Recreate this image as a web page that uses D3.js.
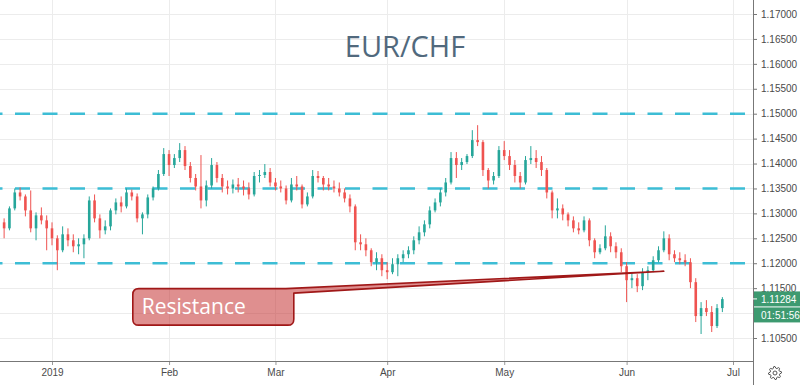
<!DOCTYPE html>
<html><head><meta charset="utf-8">
<script src="https://cdn.jsdelivr.net/npm/d3@7/dist/d3.min.js"></script>
<style>body{margin:0;background:#fff;} svg{display:block;}</style>
</head><body><svg id="c" width="800" height="385"></svg>
<script>
// ---------- DATA ----------
const firstDay = "2018-12-18";
const holidays = ["2018-12-25", "2019-01-01"];
const open = [
1.1282,1.1270,1.1310,1.1342,1.1334,1.1306,1.1270,1.1296,1.1286,
1.1270,1.1250,1.1226,1.1258,1.1246,1.1234,1.1238,1.1250,1.1326,1.1290,1.1266,1.1274,1.1306,1.1322,1.1314,1.1342,1.1334,1.1290,1.1298,1.1332,1.1350,1.1379,
1.1419,1.1397,1.1411,1.1427,1.1395,1.1371,1.1354,1.1326,1.1356,1.1397,1.1371,1.1354,1.1350,1.1358,1.1354,1.1350,1.1338,1.1375,1.1377,1.1383,
1.1362,1.1354,1.1350,1.1326,1.1358,1.1354,1.1318,1.1334,1.1375,1.1371,1.1358,1.1354,1.1350,1.1342,1.1330,1.1314,1.1242,1.1238,1.1226,1.1202,1.1210,
1.1186,1.1182,1.1198,1.1210,1.1218,1.1226,1.1246,1.1262,1.1278,1.1306,1.1322,1.1342,1.1362,1.1411,1.1397,1.1403,1.1415,1.1447,1.1443,1.1387,1.1366,1.1375,
1.1427,1.1415,1.1397,1.1375,1.1362,1.1407,1.1411,1.1403,1.1387,1.1342,1.1306,1.1310,1.1298,1.1286,1.1270,1.1266,1.1286,1.1246,1.1222,1.1230,1.1254,1.1234,1.1222,
1.1194,1.1166,1.1170,1.1154,1.1182,1.1186,1.1206,1.1226,1.1250,1.1218,1.1210,1.1206,1.1202,1.1162,1.1094,1.1110,1.1102,1.1074,1.1110
];
const high = [
1.1290,1.1314,1.1350,1.1352,1.1338,1.1346,1.1302,1.1312,1.1296,
1.1282,1.1256,1.1274,1.1270,1.1258,1.1250,1.1258,1.1334,1.1338,1.1298,1.1286,1.1310,1.1330,1.1334,1.1350,1.1348,1.1340,1.1302,1.1338,1.1354,1.1387,1.1431,
1.1427,1.1419,1.1441,1.1435,1.1403,1.1379,1.1417,1.1366,1.1411,1.1403,1.1379,1.1366,1.1368,1.1371,1.1366,1.1362,1.1383,1.1387,1.1399,1.1391,
1.1371,1.1366,1.1356,1.1371,1.1375,1.1358,1.1342,1.1387,1.1385,1.1375,1.1371,1.1366,1.1362,1.1350,1.1338,1.1318,1.1258,1.1250,1.1230,1.1222,1.1218,
1.1202,1.1210,1.1218,1.1226,1.1234,1.1254,1.1274,1.1286,1.1314,1.1330,1.1350,1.1371,1.1423,1.1423,1.1411,1.1419,1.1467,1.1477,1.1447,1.1391,1.1383,1.1435,
1.1445,1.1427,1.1407,1.1383,1.1415,1.1435,1.1427,1.1415,1.1391,1.1346,1.1330,1.1318,1.1302,1.1294,1.1282,1.1294,1.1290,1.1250,1.1238,1.1276,1.1262,1.1242,1.1230,
1.1202,1.1182,1.1178,1.1190,1.1194,1.1214,1.1234,1.1264,1.1258,1.1226,1.1222,1.1218,1.1210,1.1170,1.1122,1.1126,1.1114,1.1118,1.1132
];
const low = [
1.1250,1.1266,1.1306,1.1326,1.1294,1.1262,1.1246,1.1278,1.1226,
1.1236,1.1186,1.1222,1.1234,1.1222,1.1218,1.1210,1.1246,1.1282,1.1250,1.1258,1.1266,1.1298,1.1302,1.1310,1.1326,1.1282,1.1258,1.1290,1.1326,1.1346,1.1375,
1.1375,1.1391,1.1403,1.1387,1.1362,1.1346,1.1310,1.1314,1.1350,1.1362,1.1342,1.1338,1.1340,1.1342,1.1336,1.1328,1.1334,1.1362,1.1371,1.1354,
1.1346,1.1342,1.1318,1.1322,1.1346,1.1310,1.1314,1.1330,1.1362,1.1346,1.1346,1.1342,1.1334,1.1322,1.1302,1.1226,1.1226,1.1214,1.1194,1.1186,1.1174,
1.1168,1.1178,1.1174,1.1202,1.1210,1.1218,1.1238,1.1254,1.1270,1.1302,1.1314,1.1334,1.1358,1.1371,1.1387,1.1399,1.1411,1.1435,1.1375,1.1350,1.1358,1.1371,
1.1407,1.1387,1.1362,1.1350,1.1358,1.1399,1.1391,1.1375,1.1330,1.1290,1.1290,1.1286,1.1274,1.1262,1.1258,1.1262,1.1234,1.1210,1.1218,1.1226,1.1222,1.1210,1.1182,
1.1122,1.1150,1.1142,1.1146,1.1166,1.1182,1.1202,1.1222,1.1206,1.1202,1.1198,1.1194,1.1150,1.1082,1.1058,1.1094,1.1062,1.1070,1.1102
];
const close = [
1.1270,1.1310,1.1342,1.1334,1.1306,1.1270,1.1296,1.1286,1.1270,
1.1250,1.1226,1.1258,1.1246,1.1234,1.1238,1.1250,1.1326,1.1290,1.1266,1.1274,1.1306,1.1322,1.1314,1.1342,1.1334,1.1290,1.1298,1.1332,1.1350,1.1379,1.1419,
1.1397,1.1411,1.1427,1.1395,1.1371,1.1354,1.1326,1.1356,1.1397,1.1371,1.1354,1.1350,1.1358,1.1354,1.1350,1.1338,1.1375,1.1377,1.1383,1.1362,
1.1354,1.1350,1.1326,1.1358,1.1354,1.1318,1.1334,1.1375,1.1371,1.1358,1.1354,1.1350,1.1342,1.1330,1.1314,1.1242,1.1238,1.1226,1.1202,1.1210,1.1186,
1.1182,1.1198,1.1210,1.1218,1.1226,1.1246,1.1262,1.1278,1.1306,1.1322,1.1342,1.1362,1.1411,1.1397,1.1403,1.1415,1.1447,1.1443,1.1387,1.1366,1.1375,1.1427,
1.1415,1.1397,1.1375,1.1362,1.1407,1.1411,1.1403,1.1387,1.1342,1.1306,1.1310,1.1298,1.1286,1.1270,1.1266,1.1286,1.1246,1.1222,1.1230,1.1254,1.1234,1.1222,1.1194,
1.1166,1.1170,1.1154,1.1182,1.1186,1.1206,1.1226,1.1250,1.1218,1.1210,1.1206,1.1202,1.1162,1.1094,1.1110,1.1102,1.1074,1.1110,1.1128
];
const priceTicks = [1.105,1.110,1.115,1.120,1.125,1.130,1.135,1.140,1.145,1.150,1.155,1.160,1.165,1.170];
const levelLines = [1.120, 1.135, 1.150];
const monthLabels = ["2019","Feb","Mar","Apr","May","Jun","Jul"];
const monthStarts = ["2019-01-02","2019-02-01","2019-03-01","2019-04-01","2019-05-01","2019-06-03","2019-07-01"];
const title = "EUR/CHF";
const lastPrice = 1.11284;
const countdown = "01:51:56";
const calloutText = "Resistance";
const calloutBoxAt = {date: "2019-01-23", price: 1.1149};
const calloutTarget = {date: "2019-06-12", price: 1.1184};

// ---------- CALENDAR (trading days) ----------
const fmt = d3.utcFormat("%Y-%m-%d");
const calendar = [];
for (let d = new Date(firstDay + "T00:00:00Z"); calendar.length < 150; d = new Date(d.getTime() + 86400000)) {
  const wd = d.getUTCDay();
  const s = fmt(d);
  if (wd === 0 || wd === 6 || holidays.includes(s)) continue;
  calendar.push(s);
}
const idx = s => calendar.indexOf(s);
const bars = close.map((c, i) => ({i, date: calendar[i], o: open[i], h: high[i], l: low[i], c}));

// ---------- LAYOUT ----------
const W = 800, H = 385, plotR = 753, plotB = 361;
const svg = d3.select("#c");
const x = d3.scaleLinear().domain([idx("2019-01-02"), idx("2019-07-01")]).range([52, 733]);
const y = d3.scaleLinear().domain([1.105, 1.17]).range([338, 14]);

svg.append("rect").attr("width", W).attr("height", H).attr("fill", "#fff");
svg.append("defs").append("clipPath").attr("id", "plot")
  .append("rect").attr("x", 0).attr("y", 0).attr("width", plotR).attr("height", plotB);

const grid = svg.append("g").attr("clip-path", "url(#plot)");
grid.selectAll(".hg").data(priceTicks).join("line")
  .attr("x1", 0).attr("x2", plotR).attr("y1", d => Math.round(y(d)) + 0.5).attr("y2", d => Math.round(y(d)) + 0.5)
  .attr("stroke", "#ececec").attr("stroke-width", 1);
grid.selectAll(".vg").data(monthStarts).join("line")
  .attr("x1", d => Math.round(x(idx(d))) + 0.5).attr("x2", d => Math.round(x(idx(d))) + 0.5)
  .attr("y1", 0).attr("y2", plotB)
  .attr("stroke", "#ececec").attr("stroke-width", 1);

// title
svg.append("text").attr("x", 405).attr("y", 57).attr("text-anchor", "middle")
  .attr("font-family", "Open Sans, sans-serif").attr("font-size", 29).attr("fill", "#51697d").text(title);

// level lines
grid.selectAll(".lvl").data(levelLines).join("line")
  .attr("x1", 0).attr("x2", plotR).attr("y1", d => y(d)).attr("y2", d => y(d))
  .attr("stroke", "#3dbdd5").attr("stroke-width", 2.5)
  .attr("stroke-dasharray", "15,12.5").attr("stroke-dashoffset", 12.5);

// candles
const up = "#26a69a", dn = "#ef5350";
const cg = svg.append("g").attr("clip-path", "url(#plot)");
const cs = cg.selectAll("g.c").data(bars).join("g");
cs.append("line")
  .attr("x1", d => x(d.i)).attr("x2", d => x(d.i))
  .attr("y1", d => y(d.h)).attr("y2", d => y(d.l))
  .attr("stroke", d => d.c >= d.o ? up : dn).attr("stroke-width", 1);
cs.append("rect")
  .attr("x", d => x(d.i) - 1.3).attr("width", 2.6)
  .attr("y", d => y(Math.max(d.o, d.c)))
  .attr("height", d => Math.max(1, Math.abs(y(d.o) - y(d.c))))
  .attr("fill", d => d.c >= d.o ? up : dn);

// callout
{
  const bx = x(idx(calloutBoxAt.date)) + 1, by = y(calloutBoxAt.price);
  const bw = 161, bh = 36.5, r = 6;
  const tx = x(idx(calloutTarget.date)), ty = y(calloutTarget.price);
  const p = d3.path();
  p.moveTo(bx + r, by);
  p.lineTo(bx + bw - 8, by);
  p.lineTo(tx, ty);
  p.lineTo(bx + bw, by + 4.5);
  p.lineTo(bx + bw, by + bh - r);
  p.quadraticCurveTo(bx + bw, by + bh, bx + bw - r, by + bh);
  p.lineTo(bx + r, by + bh);
  p.quadraticCurveTo(bx, by + bh, bx, by + bh - r);
  p.lineTo(bx, by + r);
  p.quadraticCurveTo(bx, by, bx + r, by);
  p.closePath();
  svg.append("path").attr("d", p.toString())
    .attr("fill", "rgba(192,32,32,0.5)").attr("stroke", "#a01818").attr("stroke-width", 1.6)
    .attr("stroke-linejoin", "round");
  svg.append("text").attr("x", bx + 9).attr("y", by + 25)
    .attr("font-family", "Open Sans, sans-serif").attr("font-size", 21).attr("fill", "#fff").text(calloutText);
}

// axes
const ly = y(lastPrice);
const yAxis = d3.axisRight(y).tickValues(priceTicks).tickFormat(d3.format(".5f")).tickSize(4).tickPadding(4);
const ya = svg.append("g").attr("transform", `translate(${plotR},0)`).call(yAxis);
ya.select(".domain").remove();
ya.selectAll("line").attr("stroke", "#777");
ya.selectAll("text").attr("font-family", "Liberation Sans, Arial, sans-serif").attr("font-size", 10).attr("fill", "#4a4a4a");
// labels hidden behind the last-price tag
ya.selectAll(".tick").filter(d => y(d) > ly + 4 && y(d) < ly + 26).select("text").remove();

const xAxis = d3.axisBottom(x).tickValues(monthStarts.map(idx)).tickFormat((d, i) => monthLabels[i]).tickSize(4).tickPadding(4);
const xa = svg.append("g").attr("transform", `translate(0,${plotB})`).call(xAxis);
xa.select(".domain").remove();
xa.selectAll("line").attr("stroke", "#999");
xa.selectAll("text").attr("font-family", "Liberation Sans, Arial, sans-serif").attr("font-size", 10).attr("fill", "#4a4a4a");

svg.append("line").attr("x1", 0).attr("x2", plotR).attr("y1", plotB + 0.5).attr("y2", plotB + 0.5).attr("stroke", "#777");
svg.append("line").attr("x1", plotR + 0.5).attr("x2", plotR + 0.5).attr("y1", 0).attr("y2", H).attr("stroke", "#777");

// last price tag
{
  const g = svg.append("g");
  g.append("rect").attr("x", plotR + 1).attr("y", ly - 7.5).attr("width", W - plotR).attr("height", 15).attr("fill", "#3d9a70");
  g.append("rect").attr("x", plotR + 1).attr("y", ly + 8.5).attr("width", W - plotR).attr("height", 15).attr("fill", "#3d9a70");
  g.append("line").attr("x1", plotR).attr("x2", plotR + 4).attr("y1", ly).attr("y2", ly).attr("stroke", "#fff");
  g.append("text").attr("x", plotR + 8).attr("y", ly + 3.6).attr("font-family", "Liberation Sans, Arial, sans-serif")
    .attr("font-size", 10).attr("fill", "#fff").text(d3.format(".5f")(lastPrice));
  g.append("text").attr("x", plotR + 8).attr("y", ly + 19.6).attr("font-family", "Liberation Sans, Arial, sans-serif")
    .attr("font-size", 10).attr("fill", "#fff").text(countdown);
}

// gear icon
{
  const cx = 775, cy = 373, n = 8, ro = 6.5, ri = 4.8;
  const pts = [];
  for (let k = 0; k < n * 4; k++) {
    const a = (k / (n * 4)) * Math.PI * 2 - Math.PI / 2;
    const rr = (Math.floor((k + 1) / 2) % 2 === 0) ? ro : ri;
    pts.push([cx + rr * Math.cos(a), cy + rr * Math.sin(a)]);
  }
  svg.append("path").attr("d", d3.line().curve(d3.curveLinearClosed)(pts))
    .attr("fill", "none").attr("stroke", "#555").attr("stroke-width", 1);
  svg.append("circle").attr("cx", cx).attr("cy", cy).attr("r", 2).attr("fill", "none").attr("stroke", "#555");
}
</script>
</body></html>
